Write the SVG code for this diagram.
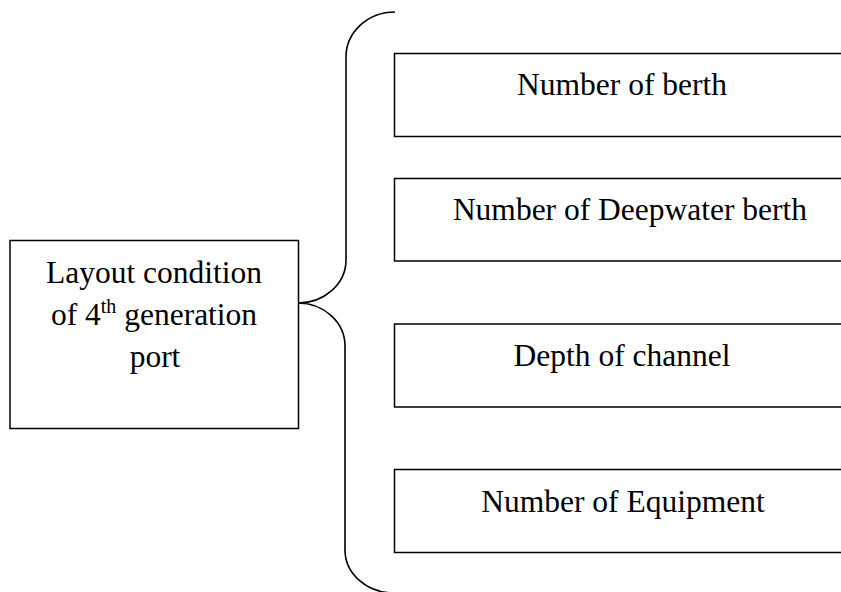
<svg xmlns="http://www.w3.org/2000/svg" width="841" height="592" viewBox="0 0 841 592">
  <style>
    .box { fill: #ffffff; stroke: #000000; stroke-width: 1.5; }
    .label { font-family: "Liberation Serif", "Times New Roman", serif; font-size: 31.5px; fill: #000000; text-anchor: middle; }
    .brace { fill: none; stroke: #000000; stroke-width: 1.6; }
  </style>
  <rect width="841" height="592" fill="#ffffff"/>

  <!-- main concept -->
  <g id="layout-condition">
    <rect class="box" x="10" y="240.5" width="288.5" height="188"/>
    <text class="label" x="154" y="283">Layout condition</text>
    <text class="label" x="154" y="325">of 4<tspan font-size="20" dy="-12">th</tspan><tspan dy="12"> generation</tspan></text>
    <text class="label" x="155" y="367">port</text>
  </g>

  <!-- curly brace joining the main concept to its factors -->
  <g id="connectors">
    <path class="brace" d="M395,12 A49,45 0 0 0 346,57 L346,260 A48,43 0 0 1 298,303 A47,43 0 0 1 345,346 L345,550 A49,43 0 0 0 394,593"/>
  </g>

  <!-- factors -->
  <g id="number-of-berth">
    <rect class="box" x="394.5" y="53.5" width="470" height="83"/>
    <text class="label" x="622" y="95">Number of berth</text>
  </g>
  <g id="number-of-deepwater-berth">
    <rect class="box" x="394.5" y="178.5" width="470" height="82.5"/>
    <text class="label" x="630" y="220">Number of Deepwater berth</text>
  </g>
  <g id="depth-of-channel">
    <rect class="box" x="394.5" y="324" width="470" height="83"/>
    <text class="label" x="622" y="366">Depth of channel</text>
  </g>
  <g id="number-of-equipment">
    <rect class="box" x="394.5" y="469.5" width="470" height="83"/>
    <text class="label" x="623" y="511.5">Number of Equipment</text>
  </g>
</svg>
